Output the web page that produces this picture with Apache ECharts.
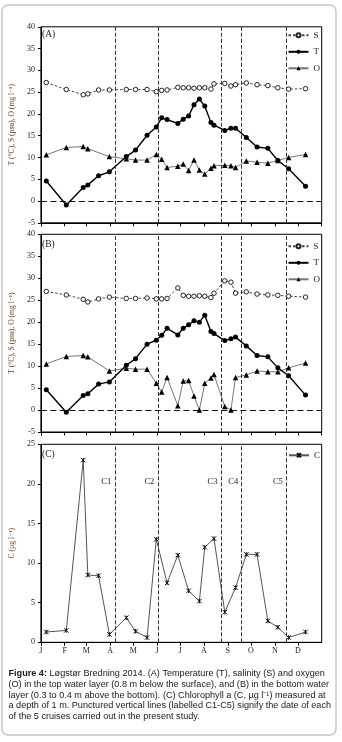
<!DOCTYPE html>
<html>
<head>
<meta charset="utf-8">
<script src="https://cdn.jsdelivr.net/npm/echarts@6/dist/echarts.min.js"></script>
<style>
html,body{margin:0;padding:0;background:#fff;}
#chart{width:342px;height:742px;}
</style>
</head>
<body>
<div id="chart"></div>
<script>
// ---------- DATA ----------
const monthLetters = ['J','F','M','A','M','J','J','A','S','O','N','D'];
const sampleDates = ['2014-01-08','2014-02-03','2014-02-25','2014-03-03','2014-03-17','2014-03-31','2014-04-22','2014-05-04','2014-05-19','2014-05-31','2014-06-07','2014-06-14','2014-06-28','2014-07-05','2014-07-12','2014-07-19','2014-07-26','2014-08-02','2014-08-10','2014-08-14','2014-08-28','2014-09-05','2014-09-11','2014-09-25','2014-10-09','2014-10-23','2014-11-05','2014-11-19','2014-12-11'];
// (A) top water layer
const sTop = [27.2,25.6,24.4,24.6,25.5,25.5,25.6,25.6,25.6,25.1,25.4,25.5,26.1,26.0,26.0,25.9,26.0,26.0,25.7,26.9,27.0,26.4,26.7,27.1,26.7,26.5,26.0,25.7,25.8];
const tTop = [4.6,-0.9,3.1,3.7,5.8,6.7,10.2,11.7,15.1,17.0,19.1,18.7,17.8,18.8,19.5,22.1,23.4,21.8,18.0,17.4,16.2,16.7,16.7,14.6,12.4,12.1,9.3,7.4,3.4];
const oTop = [10.6,12.3,12.5,12.0,null,10.2,9.7,9.4,9.4,10.7,9.6,7.7,8.0,8.5,7.0,9.4,7.1,6.2,7.5,8.1,8.2,8.1,7.7,9.2,8.9,8.7,9.3,10.0,10.7];
// (B) bottom water layer
const sBot = [27.0,26.2,25.2,24.6,25.3,25.7,25.4,25.4,25.5,25.3,25.3,25.4,27.8,26.1,25.9,25.9,26.0,25.9,25.6,26.6,29.4,29.1,26.6,26.9,26.4,26.2,26.1,25.9,25.7];
const tBot = [4.6,-0.5,3.3,3.7,5.9,6.4,10.2,11.7,15.0,15.9,17.0,18.6,17.1,18.6,19.4,20.3,20.0,21.6,17.9,17.4,15.8,16.2,16.6,14.6,12.4,12.1,9.6,7.8,3.4];
const oBot = [10.5,12.2,12.4,12.1,null,8.9,9.5,9.3,9.3,6.1,4.1,7.4,1.0,6.6,6.7,3.2,0.0,6.1,7.3,8.1,0.8,0.0,7.4,8.0,8.9,8.7,8.7,9.6,10.7];
// (C) chlorophyll a
const chlDates = ['2014-01-08','2014-02-03','2014-02-25','2014-03-03','2014-03-17','2014-03-31','2014-04-22','2014-05-04','2014-05-19','2014-05-31','2014-06-14','2014-06-28','2014-07-12','2014-07-26','2014-08-02','2014-08-14','2014-08-28','2014-09-11','2014-09-25','2014-10-09','2014-10-23','2014-11-05','2014-11-19','2014-12-11'];
const chl = [1.3,1.5,23.0,8.5,8.4,1.0,3.1,1.4,0.6,13.0,7.5,11.0,6.5,5.2,12.0,13.1,3.8,6.9,11.1,11.1,2.7,1.9,0.6,1.3];
// cruises
const cruiseNames = ['C1','C2','C3','C4','C5'];
const cruiseDates = ['2014-04-07','2014-06-02','2014-08-23','2014-09-19','2014-11-16'];
// caption
const captionLines = [
  'Løgstør Bredning 2014. (A) Temperature (T), salinity (S) and oxygen',
  '(O) in the top water layer (0.8 m below the surface), and (B) in the bottom water',
  'layer (0.3 to 0.4 m above the bottom). (C) Chlorophyll a (C, µg l⁻¹) measured at',
  'a depth of 1 m. Punctured vertical lines (labelled C1-C5) signify the date of each',
  'of the 5 cruises carried out in the present study.'
];
const captionLead = 'Figure 4:';

// ---------- CHART ----------
const SERIF = '"Liberation Serif", "DejaVu Serif", serif';
const SANS = '"Liberation Sans", Arial, sans-serif';
const zip = (xs, ys) => xs.map((x, i) => [x, ys[i]]);

const grids = [
  {left: 39, right: 20.3, top: 26.8, height: 196},
  {left: 39, right: 20.3, top: 234.3, height: 197.7},
  {left: 39, right: 20.3, top: 444.3, height: 198}
];

function xAxis(i) {
  return {
    type: 'time', gridIndex: i,
    min: '2014-01-01', max: '2015-01-01',
    splitNumber: 12, minInterval: 28 * 864e5, maxInterval: 31 * 864e5,
    axisLine: {show: true, onZero: false, lineStyle: {color: '#000', width: 1}},
    axisTick: {show: true, length: 3.5, lineStyle: {color: '#000', width: 1}},
    axisLabel: {
      show: i === 2, fontFamily: SERIF, fontSize: 8, color: '#222', margin: 5,
      hideOverlap: false, showMinLabel: true, showMaxLabel: false,
      formatter: function (v) {
        const d = new Date(v);
        if (d.getFullYear() !== 2014) return '';
        return monthLetters[d.getMonth()];
      },
      rich: {}
    },
    splitLine: {show: false}, minorTick: {show: false}
  };
}
function yAxis(i, min, max, name) {
  return {
    type: 'value', gridIndex: i, min: min, max: max, interval: 5,
    axisLine: {show: true, lineStyle: {color: '#000', width: 1}},
    axisTick: {show: true, length: 3, lineStyle: {color: '#000'}},
    axisLabel: {fontFamily: SERIF, fontSize: 8, color: '#222', margin: 6},
    splitLine: {show: false},
    name: name, nameLocation: 'middle', nameGap: 20,
    nameTextStyle: {fontFamily: SERIF, fontSize: 7.6, color: '#6b3f22'}
  };
}

function cruiseLines(withZero) {
  const data = cruiseDates.map(d => ({xAxis: d, lineStyle: {type: [4, 2], color: '#333', width: 1}}));
  if (withZero) data.push({yAxis: 0, lineStyle: {type: [6, 3.5], color: '#111', width: 1}});
  return {silent: true, symbol: ['none', 'none'], label: {show: false}, animation: false, data: data};
}

function sSeries(i, vals) {
  return {name: 'S', type: 'line', xAxisIndex: i, yAxisIndex: i, data: zip(sampleDates, vals),
    symbol: 'circle', symbolSize: 4.5, z: 3,
    itemStyle: {color: '#fff', borderColor: '#222', borderWidth: 1},
    lineStyle: {color: '#444', width: 1, type: [2.5, 2]}};
}
function tSeries(i, vals) {
  return {name: 'T', type: 'line', xAxisIndex: i, yAxisIndex: i, data: zip(sampleDates, vals),
    symbol: 'circle', symbolSize: 5, z: 4,
    itemStyle: {color: '#000'}, lineStyle: {color: '#000', width: 1.4},
    markLine: cruiseLines(true)};
}
function oSeries(i, vals) {
  return {name: 'O', type: 'line', xAxisIndex: i, yAxisIndex: i, data: zip(sampleDates, vals),
    symbol: 'triangle', symbolSize: 5.5, connectNulls: true, z: 3,
    itemStyle: {color: '#000'}, lineStyle: {color: '#777', width: 1}};
}

const xMark = 'path://M0,0L10,10M10,0L0,10M5,0L5,10';

const legendBase = {
  orient: 'vertical', right: 22, itemWidth: 20, itemHeight: 5, itemGap: 7.5,
  selectedMode: false, textStyle: {fontFamily: SERIF, fontSize: 9, color: '#222'}, padding: 0
};

const option = {
  animation: false,
  grid: grids.map(g => Object.assign({show: true, borderColor: '#000', borderWidth: 1, backgroundColor: 'transparent'}, g)),
  xAxis: [xAxis(0), xAxis(1), xAxis(2)],
  yAxis: [
    yAxis(0, -5, 40, 'T (°C), S (psu), O (mg l⁻¹)'),
    yAxis(1, -5, 40, 'T (°C), S (psu), O (mg l⁻¹)'),
    yAxis(2, 0, 25, 'C (µg l⁻¹)')
  ],
  legend: [
    Object.assign({}, legendBase, {data: ['S', 'T', 'O'], top: 30.8}),
    Object.assign({}, legendBase, {data: ['S', 'T', 'O'], top: 241.8}),
    Object.assign({}, legendBase, {data: ['C'], top: 450.8})
  ],
  series: [
    sSeries(0, sTop), tSeries(0, tTop), oSeries(0, oTop),
    sSeries(1, sBot), tSeries(1, tBot), oSeries(1, oBot),
    {name: 'C', type: 'line', xAxisIndex: 2, yAxisIndex: 2, data: zip(chlDates, chl),
      symbol: xMark, symbolSize: 4.5, z: 4,
      itemStyle: {color: 'none', borderColor: '#111', borderWidth: 1},
      lineStyle: {color: '#555', width: 1},
      markLine: cruiseLines(false),
      markPoint: {
        silent: true, symbol: 'rect', symbolSize: 1, itemStyle: {color: 'rgba(0,0,0,0)'},
        label: {show: true, position: 'left', distance: 3, formatter: '{b}', fontFamily: SERIF, fontSize: 8.5, color: '#222'},
        data: cruiseDates.map((d, i) => ({name: cruiseNames[i], coord: [d, 20.3]}))
      }}
  ],
  graphic: []
};

// panel letters and frame
option.graphic.push(
  {type: 'rect', silent: true, shape: {x: 2, y: 5, width: 334, height: 730, r: 6}, style: {fill: 'none', stroke: '#c8c8c8', lineWidth: 1.5}},
  {type: 'text', left: 42, top: 29.5, style: {text: '(A)', font: '9.5px ' + SERIF, fill: '#222'}},
  {type: 'text', left: 42, top: 239.5, style: {text: '(B)', font: '9.5px ' + SERIF, fill: '#222'}},
  {type: 'text', left: 42, top: 449.5, style: {text: '(C)', font: '9.5px ' + SERIF, fill: '#222'}}
);

// caption: font size fitted to the justified width
(function () {
  const cv = document.createElement('canvas').getContext('2d');
  const target = 323;
  function w(fs, i) {
    let total = 0;
    if (i === 0) { cv.font = 'bold ' + fs + 'px ' + SANS; total += cv.measureText(captionLead + ' ').width; }
    cv.font = fs + 'px ' + SANS; total += cv.measureText(captionLines[i]).width;
    return total;
  }
  let maxW = 0;
  for (let i = 0; i < 4; i++) maxW = Math.max(maxW, w(10, i));
  const fs = Math.min(10, 10 * target / maxW);
  const lineH = 10.85;
  captionLines.forEach((line, i) => {
    const yc = 673.3 + i * lineH;
    option.graphic.push({
      type: 'text', x: 8.5, y: yc,
      style: {
        text: i === 0 ? '{b|' + captionLead + '} ' + line : line,
        font: fs + 'px ' + SANS, fill: '#1a1a1a', verticalAlign: 'middle',
        rich: i === 0 ? {b: {fontWeight: 'bold', fontFamily: SANS, fontSize: fs, fill: '#1a1a1a'}} : undefined
      }
    });
  });
})();

const chart = echarts.init(document.getElementById('chart'), null, {renderer: 'canvas'});
chart.setOption(option);
</script>
</body>
</html>
